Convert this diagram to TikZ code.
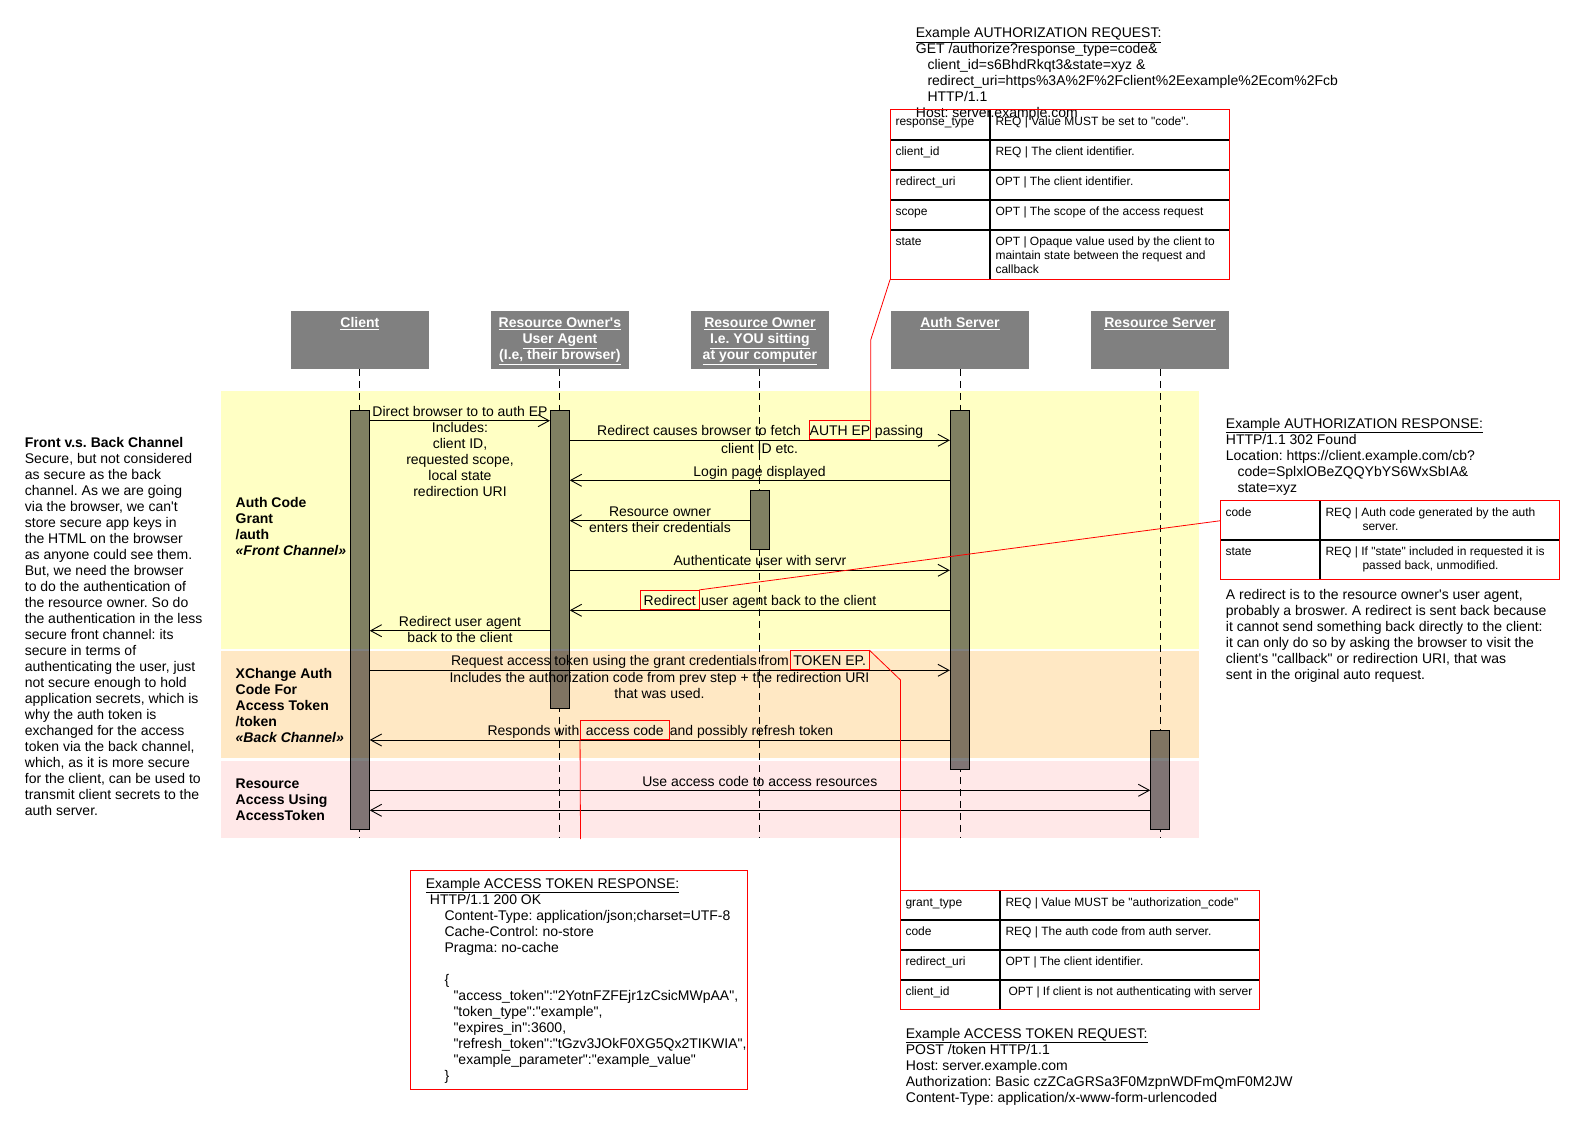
\documentclass[tikz,border=0pt]{standalone}
\usepackage{fontspec}
\setmainfont{Liberation Sans}[Ligatures=TeXOff]
\usetikzlibrary{arrows.meta}
\definecolor{bandY}{HTML}{FFFFC4}
\definecolor{bandO}{HTML}{FFE8C4}
\definecolor{bandP}{HTML}{FFE8E8}
\definecolor{barG}{HTML}{808080}
\definecolor{barY}{HTML}{808062}
\definecolor{barO}{HTML}{807462}
\definecolor{barP}{HTML}{807474}
\definecolor{hdrgray}{HTML}{808080}
\newcommand\fmain{\fontsize{14pt}{16pt}\selectfont}
\newcommand\fcell{\fontsize{12pt}{14pt}\selectfont}
\newcommand\frm{\rule{0pt}{11pt}}
\newcommand\frc{\rule{0pt}{9.5pt}}
\newcommand\actbar[5]{%
  \begin{scope}
    \clip (#2,#4) rectangle (#3,#5);
    \fill[barG] (#2,#4) rectangle (#3,#5);
    \fill[barY] (#2,391) rectangle (#3,649);
    \fill[barO] (#2,651) rectangle (#3,758);
    \fill[barP] (#2,761) rectangle (#3,838);
  \end{scope}
  \node[barframe, minimum width={(#3-#2)*1pt}, minimum height={(#5-#4)*1pt}] (#1) at ({(#2+#3)/2},{(#4+#5)/2}) {};
}
\tikzset{
  txt/.style={inner sep=0pt, font=\fmain, align=left, anchor=north west},
  ctxt/.style={inner sep=0pt, font=\fmain, align=center, anchor=north},
  ptxt/.style={inner sep=0pt, font=\fmain},
  cell/.style={inner sep=0pt, font=\fcell, align=left, anchor=north west},
  hdr/.style={fill=hdrgray, minimum width=137.5pt, minimum height=57.7pt, inner sep=0pt},
  hdrtxt/.style={inner sep=0pt, font=\fmain\bfseries, text=white, align=center, anchor=north},
  life/.style={line width=0.9pt, dash pattern=on 7pt off 5pt},
  barframe/.style={draw=black, line width=0.9pt, inner sep=0pt},
  msg/.style={line width=0.9pt, -{Straight Barb[length=11pt,width=12pt]}},
  rbox/.style={draw=red, line width=0.9pt, inner sep=0pt, font=\fmain, text height=11.5pt, text depth=0pt},
  redline/.style={red, line width=0.8pt},
  redframe/.style={draw=red, line width=1pt},
  tline/.style={black, line width=1.6pt},
  boxnode/.style={inner sep=0pt}
}
\frenchspacing
\begin{document}
\frenchspacing
\begin{tikzpicture}[x=1pt,y=-1pt]
\fill[white] (0,0) rectangle (1580,1130);
\useasboundingbox (0,0) rectangle (1580,1130);

% bands
\fill[bandY] (221,391) rectangle (1199,649);
\fill[bandO] (221,651) rectangle (1199,758);
\fill[bandP] (221,761) rectangle (1199,838);

% headers
\node[hdr] (client) at (359.9,339.85) {};
\node[hdr] (agent) at (559.9,339.85) {};
\node[hdr] (owner) at (759.9,339.85) {};
\node[hdr] (authsrv) at (960,339.85) {};
\node[hdr] (ressrv) at (1160,339.85) {};
\node[hdrtxt] (clientT) at ([yshift=-5.5pt]client.north) {\frm\underline{Client}};
\node[hdrtxt] (agentT) at ([yshift=-5.5pt]agent.north) {\frm\underline{Resource Owner's}\\\underline{User Agent}\\\underline{(I.e, their browser)}};
\node[hdrtxt] (ownerT) at ([yshift=-5.5pt]owner.north) {\frm\underline{Resource Owner}\\\underline{I.e. YOU sitting}\\\underline{at your computer}};
\node[hdrtxt] (authsrvT) at ([yshift=-5.5pt]authsrv.north) {\frm\underline{Auth Server}};
\node[hdrtxt] (ressrvT) at ([yshift=-5.5pt]ressrv.north) {\frm\underline{Resource Server}};

% lifelines
\coordinate (clientE) at (359.9,838);
\coordinate (agentE) at (559.9,838);
\coordinate (ownerE) at (759.9,838);
\coordinate (authsrvE) at (960,838);
\coordinate (ressrvE) at (1160,838);
\draw[life] (client.south) -- (clientE);
\draw[life] (agent.south) -- (agentE);
\draw[life] (owner.south) -- (ownerE);
\draw[life] (authsrv.south) -- (authsrvE);
\draw[life] (ressrv.south) -- (ressrvE);

% activation bars
\actbar{cbar}{350.4}{369.3}{410}{829}
\actbar{uabar}{550.4}{569.3}{410}{708.5}
\actbar{robar}{750.2}{769.4}{490}{549.3}
\actbar{asbar}{950.3}{969.3}{410.3}{769.3}
\actbar{rsbar}{1150.7}{1169.8}{730}{829}

% messages
\draw[msg] (cbar.east |- 0,420.7) -- (uabar.west |- 0,420.7);
\draw[msg] (uabar.east |- 0,440.3) -- (asbar.west |- 0,440.3);
\draw[msg] (asbar.west |- 0,480.3) -- (uabar.east |- 0,480.3);
\draw[msg] (robar.west |- 0,520.7) -- (uabar.east |- 0,520.7);
\draw[msg] (uabar.east |- 0,570.3) -- (asbar.west |- 0,570.3);
\draw[msg] (asbar.west |- 0,610.3) -- (uabar.east |- 0,610.3);
\draw[msg] (uabar.west |- 0,630.7) -- (cbar.east |- 0,630.7);
\draw[msg] (cbar.east |- 0,670.3) -- (asbar.west |- 0,670.3);
\draw[msg] (asbar.west |- 0,740) -- (cbar.east |- 0,740);
\draw[msg] (cbar.east |- 0,790.3) -- (rsbar.west |- 0,790.3);
\draw[msg] (rsbar.west |- 0,810.3) -- (cbar.east |- 0,810.3);

% message labels
\node[ctxt] (m1t) at (460,405.7) {\frm Direct browser to to auth EP\\Includes:\\client ID,\\requested scope,\\local state\\redirection URI};
\node[rbox, minimum width=59.3pt, minimum height=19.4pt] (authep) at (840,430) {AUTH EP};
\node[ptxt, anchor=base east] (m2a) at ([xshift=-8pt]authep.base west) {Redirect causes browser to fetch};
\node[ptxt, anchor=base west] (m2b) at ([xshift=4pt]authep.base east) {passing};
\node[ctxt] (m2c) at (759.6,442.5) {\frm client ID etc.};
\node[ctxt] (m3t) at (759.6,465.2) {\frm Login page displayed};
\node[ctxt] (m4t) at (660,505.2) {\frm Resource owner\\enters their credentials};
\node[ctxt] (m5t) at (760,554.5) {\frm Authenticate user with servr};
\node[rbox, minimum width=58.5pt, minimum height=19pt] (redir) at (669.75,599.8) {Redirect};
\node[ptxt, anchor=base west] (m6b) at ([xshift=1.5pt]redir.base east) {user agent back to the client};
\node[ctxt] (m7t) at (460,615.2) {\frm Redirect user agent\\back to the client};
\node[rbox, minimum width=78.6pt, minimum height=18.6pt] (tokep) at (829.7,660) {TOKEN EP.};
\node[ptxt, anchor=base east] (m8a) at ([xshift=-1pt]tokep.base west) {Request access token using the grant credentials from};
\node[ctxt] (m8c) at (659.5,670.8) {\frm Includes the authorization code from prev step + the redirection URI\\that was used.};
\node[rbox, minimum width=88.7pt, minimum height=19.3pt] (acbox) at (624.85,729.65) {access code};
\node[ptxt, anchor=base east] (m9a) at ([xshift=-0.5pt]acbox.base west) {Responds with};
\node[ptxt, anchor=base west] (m9b) at (acbox.base east) {and possibly refresh token};
\node[ctxt] (m10t) at (759.8,775.2) {\frm Use access code to access resources};

% band labels
\node[txt, font=\fmain\bfseries] (lbl1) at (235.5,496.3) {\frm Auth Code\\Grant\\/auth\\\textit{«Front Channel»}};
\node[txt, font=\fmain\bfseries] (lbl2) at (235.5,666.8) {\frm XChange Auth\\Code For\\Access Token\\/token\\\textit{«Back Channel»}};
\node[txt, font=\fmain\bfseries] (lbl3) at (235.5,777.5) {\frm Resource\\Access Using\\AccessToken};

% left explanation
\node[txt] (fvb) at (24.7,436) {\frm\textbf{Front v.s. Back Channel}\\Secure, but not considered\\as secure as the back\\channel. As we are going\\via the browser, we can't\\store secure app keys in\\the HTML on the browser\\as anyone could see them.\\But, we need the browser\\to do the authentication of\\the resource owner. So do\\the authentication in the less\\secure front channel: its\\secure in terms of\\authenticating the user, just\\not secure enough to hold\\application secrets, which is\\why the auth token is\\exchanged for the access\\token via the back channel,\\which, as it is more secure\\for the client, can be used to\\transmit client secrets to the\\auth server.};

% authorization request
\node[txt] (areq) at (915.7,26.5) {\frm\underline{Example AUTHORIZATION REQUEST:}\\GET /authorize?response\_type=code\&\\\hspace*{11.6pt}client\_id=s6BhdRkqt3\&state=xyz \&\\\hspace*{11.6pt}redirect\_uri=https\%3A\%2F\%2Fclient\%2Eexample\%2Ecom\%2Fcb\\\hspace*{11.6pt}HTTP/1.1\\Host: server.example.com};

% table 1
\node[boxnode, minimum width=339pt, minimum height=169.3pt] (tab1) at (1059.8,194.65) {};
\draw[tline] (tab1.west |- 0,140) -- (tab1.east |- 0,140);
\draw[tline] (tab1.west |- 0,170) -- (tab1.east |- 0,170);
\draw[tline] (tab1.west |- 0,200) -- (tab1.east |- 0,200);
\draw[tline] (tab1.west |- 0,230) -- (tab1.east |- 0,230);
\draw[tline] (tab1.north -| 990,0) -- (tab1.south -| 990,0);
\draw[redframe] (tab1.north west) rectangle (tab1.south east);
\node[cell] (t1a1) at (895.3,116.2) {\frc response\_type};
\node[cell] (t1b1) at (995.3,116.2) {\frc REQ | Value MUST be set to "code".};
\node[cell] (t1a2) at (895.3,146.2) {\frc client\_id};
\node[cell] (t1b2) at (995.3,146.2) {\frc REQ | The client identifier.};
\node[cell] (t1a3) at (895.3,176.2) {\frc redirect\_uri};
\node[cell] (t1b3) at (995.3,176.2) {\frc OPT | The client identifier.};
\node[cell] (t1a4) at (895.3,206.2) {\frc scope};
\node[cell] (t1b4) at (995.3,206.2) {\frc OPT | The scope of the access request};
\node[cell] (t1a5) at (895.3,236.2) {\frc state};
\node[cell] (t1b5) at (995.3,236.2) {\frc OPT | Opaque value used by the client to\\maintain state between the request and\\callback};

% authorization response
\node[txt] (aresp) at (1225.7,416.8) {\frm\underline{Example AUTHORIZATION RESPONSE:}\\HTTP/1.1 302 Found\\Location: https://client.example.com/cb?\\\hspace*{11.6pt}code=SplxlOBeZQQYbYS6WxSbIA\&\\\hspace*{11.6pt}state=xyz};
\node[boxnode, minimum width=338.6pt, minimum height=78.3pt] (tab2) at (1390,539.85) {};
\draw[tline] (tab2.west |- 0,540) -- (tab2.east |- 0,540);
\draw[tline] (tab2.north -| 1320,0) -- (tab2.south -| 1320,0);
\draw[redframe] (tab2.north west) rectangle (tab2.south east);
\node[cell] (t2a1) at (1225.3,506.9) {\frc code};
\node[cell] (t2b1) at (1325.3,506.9) {\frc REQ | Auth code generated by the auth\\\hspace*{37pt}server.};
\node[cell] (t2a2) at (1225.3,546.2) {\frc state};
\node[cell] (t2b2) at (1325.3,546.2) {\frc REQ | If "state" included in requested it is\\\hspace*{37pt}passed back, unmodified.};
\node[txt] (redirnote) at (1225.7,587.8) {\frm A redirect is to the resource owner's user agent,\\probably a broswer. A redirect is sent back because\\it cannot send something back directly to the client:\\it can only do so by asking the browser to visit the\\client's "callback" or redirection URI, that was\\sent in the original auto request.};

% access token response
\node[boxnode, minimum width=337.4pt, minimum height=219pt] (atresp) at (579,979.8) {};
\draw[redframe] (atresp.north west) rectangle (atresp.south east);
\node[txt] (atrespT) at (425.7,876.8) {\frm\underline{Example ACCESS TOKEN RESPONSE:}\\\hspace*{4pt}HTTP/1.1 200 OK\\\hspace*{18.6pt}Content-Type: application/json;charset=UTF-8\\\hspace*{18.6pt}Cache-Control: no-store\\\hspace*{18.6pt}Pragma: no-cache\\[16pt]\hspace*{18.6pt}\{\\\hspace*{27.6pt}"access\_token":"2YotnFZFEjr1zCsicMWpAA",\\\hspace*{27.6pt}"token\_type":"example",\\\hspace*{27.6pt}"expires\_in":3600,\\\hspace*{27.6pt}"refresh\_token":"tGzv3JOkF0XG5Qx2TIKWIA",\\\hspace*{27.6pt}"example\_parameter":"example\_value"\\\hspace*{18.6pt}\}};

% table 3
\node[boxnode, minimum width=358.6pt, minimum height=118.3pt] (tab3) at (1080,949.85) {};
\draw[tline] (tab3.west |- 0,920) -- (tab3.east |- 0,920);
\draw[tline] (tab3.west |- 0,950) -- (tab3.east |- 0,950);
\draw[tline] (tab3.west |- 0,980) -- (tab3.east |- 0,980);
\draw[tline] (tab3.north -| 1000,0) -- (tab3.south -| 1000,0);
\draw[redframe] (tab3.north west) rectangle (tab3.south east);
\node[cell] (t3a1) at (905.3,896.9) {\frc grant\_type};
\node[cell] (t3b1) at (1005.3,896.9) {\frc REQ | Value MUST be "authorization\_code"};
\node[cell] (t3a2) at (905.3,926.2) {\frc code};
\node[cell] (t3b2) at (1005.3,926.2) {\frc REQ | The auth code from auth server.};
\node[cell] (t3a3) at (905.3,956.2) {\frc redirect\_uri};
\node[cell] (t3b3) at (1005.3,956.2) {\frc OPT | The client identifier.};
\node[cell] (t3a4) at (905.3,986.2) {\frc client\_id};
\node[cell] (t3b4) at (1008.3,986.2) {\frc OPT | If client is not authenticating with server};

% access token request
\node[txt] (atreq) at (905.7,1026.8) {\frm\underline{Example ACCESS TOKEN REQUEST:}\\POST /token HTTP/1.1\\Host: server.example.com\\Authorization: Basic czZCaGRSa3F0MzpnWDFmQmF0M2JW\\Content-Type: application/x-www-form-urlencoded};

% red connectors
\draw[redline] (authep.north east) -- (authep.north east |- 0,339.7) -- (tab1.south west);
\draw[redline] (redir.north east) -- (tab2.west |- 0,520.7);
\draw[redline] (tokep.north east) -- (tab3.north west |- 0,680) -- (tab3.north west);
\coordinate (acend) at (580.5,839);
\draw[redline] (acbox.south west) -- (acend);
\end{tikzpicture}
\end{document}
